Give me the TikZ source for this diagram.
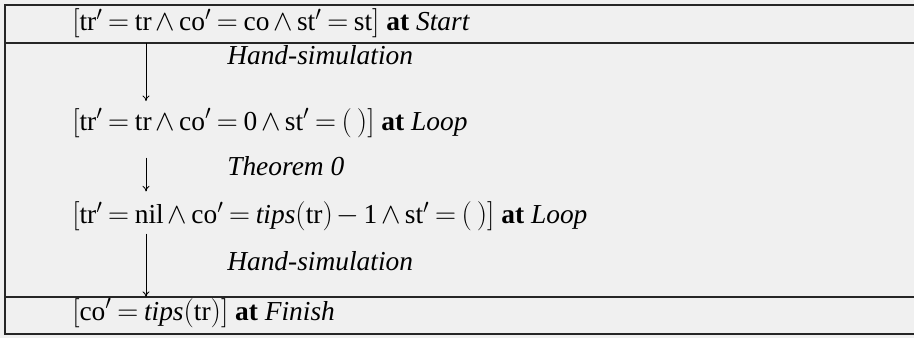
\documentclass[tikz,border=0pt]{standalone}
\usepackage{amsmath}
\usepackage{fontspec}
\setmainfont{Liberation Serif}
\usetikzlibrary{arrows.meta,positioning,calc}

\tikzset{
  formula/.style={anchor=base west, inner sep=0pt, font=\fontsize{19.5}{23}\selectfont,
    execute at begin node={\thickmuskip=3.5mu\relax\medmuskip=2.5mu\relax}},
  reason/.style={anchor=base west, inner sep=0pt, font=\fontsize{19.5}{23}\selectfont\itshape},
  proofarrow/.style={-{To[length=4pt,width=5pt]}, line width=0.6pt},
  rule/.style={line width=1pt, draw=black!85}
}
\newcommand{\rmv}[1]{\mathrm{#1}}

\begin{document}
\begin{tikzpicture}
    \useasboundingbox (0,0) rectangle (22.85,8.45);
    \fill[black!6] (0,0) rectangle (22.85,8.45);

    % Frame
    \draw[rule] (22.85,8.325) -- (0.125,8.325) -- (0.125,0.1) -- (22.85,0.1);
    \coordinate (sep1) at (0.125,7.375);
    \coordinate (sep2) at (0.125,1.025);
    \draw[rule] (sep1) -- (22.85,7.375);
    \draw[rule] (sep2) -- (22.85,1.025);

    % Assertions
    \node[formula] (start) at (1.8,7.675)
      {$[\rmv{tr}'=\rmv{tr}\wedge\rmv{co}'=\rmv{co}\wedge\rmv{st}'=\rmv{st}]$ \textbf{at} \textit{Start}};
    \node[formula] (loop) at (1.8,5.2)
      {$[\rmv{tr}'=\rmv{tr}\wedge\rmv{co}'=\rmv{0}\wedge\rmv{st}'=(\,)]$ \textbf{at} \textit{Loop}};
    \node[formula] (nilloop) at (1.8,2.85)
      {$[\rmv{tr}'=\rmv{nil}\wedge\rmv{co}'=\mathit{tips}(\rmv{tr})-\rmv{1}\wedge\rmv{st}'=(\,)]$ \textbf{at} \textit{Loop}};
    \node[formula] (finish) at (1.8,0.45)
      {$[\rmv{co}'=\mathit{tips}(\rmv{tr})]$ \textbf{at} \textit{Finish}};

    % Justifications
    \node[reason] (hand1) at (5.675,6.825) {Hand-simulation};
    \node[reason] (thm) at (5.675,4.05) {Theorem 0};
    \node[reason] (hand2) at (5.675,1.7) {Hand-simulation};

    % Arrows
    \coordinate (ax) at (3.65,0);
    \draw[proofarrow, shorten >=0.17cm] (ax |- sep1) -- (ax |- loop.north);
    \draw[proofarrow, shorten <=0.5cm, shorten >=0.26cm] (ax |- loop.south) -- (ax |- nilloop.north);
    \draw[proofarrow, shorten <=0.05cm] (ax |- nilloop.south) -- (ax |- sep2);
\end{tikzpicture}
\end{document}
